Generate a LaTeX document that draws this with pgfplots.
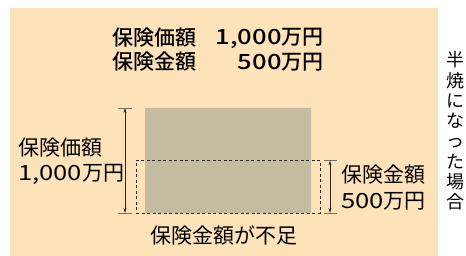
\documentclass[border=0pt]{standalone}
\usepackage{pgfplots}
\pgfplotsset{compat=1.18}
\usetikzlibrary{arrows.meta}
\usepackage{fontspec}
\setmainfont{Noto Sans CJK JP}
\newfontfamily\medfont{Noto Sans CJK JP Medium}
\newfontfamily\wided[FakeStretch=1.22]{Noto Sans CJK JP}
\newfontfamily\widedm[FakeStretch=1.22]{Noto Sans CJK JP Medium}
\newcommand\dg[1]{{\wided #1}}
\newcommand\dgm[1]{{\widedm #1}}
\definecolor{bg}{RGB}{254,227,186}
\definecolor{barc}{RGB}{196,188,161}
\definecolor{txt}{RGB}{40,40,40}
\definecolor{tickc}{RGB}{120,110,95}
\begin{document}
\begin{tikzpicture}
\begin{axis}[
  scale only axis, width=466pt, height=256pt,
  xmin=0, xmax=466, ymin=-409.5, ymax=2028.6,
  hide axis, clip=false,
  every node/.style={text=txt},
]
\path (axis cs:0,-409.5) rectangle (axis cs:466,2028.6);
% background panel
\addplot[fill=bg, draw=none] coordinates {(10,-409.5) (438,-409.5) (438,1952) (10,1952)} \closedcycle;
% bar: insured value 1000
\addplot[fill=barc, draw=none] coordinates {(145,0) (311,0) (311,1000) (145,1000)} \closedcycle;
% dashed: insured amount 500
\addplot[draw=txt, line width=0.8pt, dash pattern=on 3pt off 2.5pt] coordinates {(136,0) (320,0) (320,500) (136,500) (136,0)};
% left arrow
\addplot[draw=tickc, line width=0.6pt] coordinates {(118,1000) (132,1000)};
\addplot[draw=tickc, line width=0.6pt] coordinates {(118,0) (132,0)};
\addplot[draw=txt, line width=0.6pt, {Stealth[length=5pt,width=3pt]}-{Stealth[length=5pt,width=3pt]}] coordinates {(125,0) (125,1000)};
% right arrow
\addplot[draw=tickc, line width=0.6pt] coordinates {(324,500) (337,500)};
\addplot[draw=tickc, line width=0.6pt] coordinates {(324,0) (337,0)};
\addplot[draw=txt, line width=0.6pt, {Stealth[length=5pt,width=3pt]}-{Stealth[length=5pt,width=3pt]}] coordinates {(330,0) (330,500)};
% texts
\node[anchor=west, inner sep=0pt, font=\fontsize{21}{22}\selectfont\medfont] at (axis cs:112,1667) {保険価額};
\node[anchor=east, inner sep=0pt, font=\fontsize{21}{22}\selectfont\medfont] at (axis cs:324,1667) {\dgm{1,000}万円};
\node[anchor=west, inner sep=0pt, font=\fontsize{21}{22}\selectfont\medfont] at (axis cs:112,1438) {保険金額};
\node[anchor=east, inner sep=0pt, font=\fontsize{21}{22}\selectfont\medfont] at (axis cs:324,1438) {\dgm{500}万円};
\node[anchor=west, inner sep=0pt, font=\fontsize{21}{22}\selectfont] at (axis cs:18,619) {保険価額};
\node[anchor=west, inner sep=0pt, font=\fontsize{21}{22}\selectfont] at (axis cs:18,371) {\dg{1,000}万円};
\node[anchor=west, inner sep=0pt, font=\fontsize{21}{22}\selectfont] at (axis cs:341,362) {保険金額};
\node[anchor=west, inner sep=0pt, font=\fontsize{21}{22}\selectfont] at (axis cs:341,114) {\dg{500}万円};
\node[font=\fontsize{21}{22}\selectfont] at (axis cs:224,-219) {保険金額が不足};
\node[align=center, inner sep=0pt, font=\fontsize{18}{20.3}\selectfont] at (axis cs:455,781) {半\\焼\\に\\な\\っ\\た\\場\\合};
\end{axis}
\end{tikzpicture}
\end{document}
